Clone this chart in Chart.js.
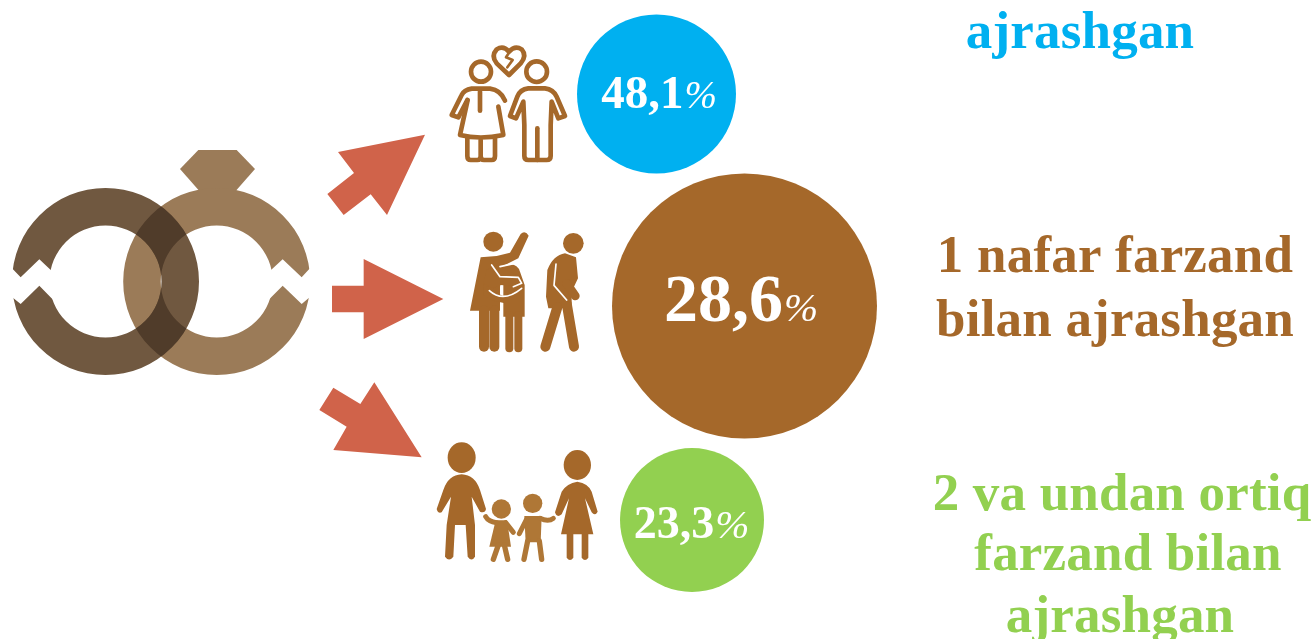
<!DOCTYPE html>
<html><head><meta charset="utf-8">
<style>html,body{margin:0;padding:0;background:#fff;overflow:hidden}canvas{display:block}</style>
<script src="https://cdn.jsdelivr.net/npm/chart.js@4"></script>
</head><body><canvas id="c" width="1314" height="639"></canvas>
<script>
const categories = ["Farzandsiz ajrashgan", "1 nafar farzand bilan ajrashgan", "2 va undan ortiq farzand bilan ajrashgan"];
const shares = [48.1, 28.6, 23.3];
const categoryLines = [["ajrashgan"], ["1 nafar farzand", "bilan ajrashgan"], ["2 va undan ortiq", "farzand bilan", "ajrashgan"]];
const percentSign = "%";

// layout, kept apart from the values
const centerX = [656.5, 744.5, 692];
const centerY = [94, 306, 520];
const radii = [79.5, 132.5, 72];
const colors = ["#00B0F0", "#A5682A", "#92D050"];
const valueFont = [47, 68, 46];
const pctFont = [39, 41, 41];
const valueDx = [0, -6, -3];
const valueBase = [108, 321, 538];
const labelX = [1080, 1115, 1122];
const labelLayout = [[48], [272, 336], [510, 570, 632]];
const labelOffsetX = [[0], [0, 0], [0, 6, -2]];
const ARROW = "#D0634A", BROWN = "#A5682A", KID = "#AF7736";
const RING_L = "#9B7B58", RING_D = "#705840", RING_X = "#503C2A";

function poly(ctx, pts, s, ox, oy) {
  ctx.beginPath();
  pts.forEach((p, i) => { const x = p[0] / s + ox, y = p[1] / s + oy; i ? ctx.lineTo(x, y) : ctx.moveTo(x, y); });
  ctx.closePath();
}
function drawRings(ctx) {
  const lx = 105.5, rx = 216.7, cy = 281.5, R = 93.5, r = 56;
  const ring = (x) => { ctx.beginPath(); ctx.arc(x, cy, R, 0, 2 * Math.PI); ctx.arc(x, cy, r, 0, 2 * Math.PI, true); ctx.closePath(); };
  ctx.fillStyle = RING_L;
  poly(ctx, [[595,60],[710,60],[765,117],[705,185],[600,185],[540,117]], 3, 0, 130); ctx.fill();
  ring(rx); ctx.fill();
  ctx.fillStyle = RING_D; ring(lx); ctx.fill();
  ctx.save(); ring(lx); ctx.clip(); ctx.fillStyle = RING_X; ring(rx); ctx.fill(); ctx.restore();
  ctx.fillStyle = "#fff";
  poly(ctx, [[20,398],[62,442],[118,388],[165,432],[165,515],[118,467],[62,522],[20,488]], 3, 0, 130); ctx.fill();
  poly(ctx, [[945,398],[905,442],[848,388],[800,432],[800,515],[848,467],[905,522],[945,488]], 3, 0, 130); ctx.fill();
}
function drawArrows(ctx) {
  ctx.fillStyle = ARROW;
  [[[1275,14],[1014,66],[1062,129],[982,192],[1031,255],[1112,193],[1161,255]],
   [[1330,507],[1091,387],[1091,467],[996,467],[996,547],[1091,547],[1091,627]],
   [[1265,982],[1123,757],[1081,822],[1000,773],[958,840],[1040,890],[1000,960]]]
  .forEach(a => { poly(ctx, a, 3, 0, 130); ctx.fill(); });
}
function strokeP(ctx, d, w, c) { ctx.lineWidth = w; ctx.strokeStyle = c; ctx.stroke(new Path2D(d)); }
function fillP(ctx, d, c) { ctx.fillStyle = c; ctx.fill(new Path2D(d)); }
function circ(ctx, x, y, rx, ry, c) { ctx.fillStyle = c; ctx.beginPath(); ctx.ellipse(x, y, rx, ry, 0, 0, 2 * Math.PI); ctx.fill(); }
function icon1(ctx) {
  ctx.save(); ctx.translate(430, 30); ctx.scale(1 / 3, 1 / 3); ctx.lineCap = "round"; ctx.lineJoin = "round";
  ctx.beginPath(); ctx.arc(153, 125, 30, 0, 7); ctx.lineWidth = 14; ctx.strokeStyle = BROWN; ctx.stroke();
  ctx.beginPath(); ctx.arc(320, 125, 31, 0, 7); ctx.stroke();
  [ "M237,135 L200,100 Q182,78 200,58 Q220,45 237,65 Q255,45 275,58 Q292,78 272,100 Z",
    "M112,210 L85,262 L65,255 L95,195 Q102,180 125,176 L180,176 Q212,180 225,212",
    "M205,230 L220,315 Q150,330 90,315 L113,210",
    "M150,185 L150,242",
    "M112,325 L112,378 Q112,390 122,390 L142,390 Q152,390 152,378 L152,330 L152,378 Q152,390 162,390 L185,390 Q195,390 195,378 L195,325",
    "M240,258 L262,200 Q270,178 295,175 L345,175 Q370,178 380,200 L405,258 L385,265 L365,215 L362,285 L362,378 Q362,390 350,390 L295,390 Q283,390 283,378 L283,285 L280,215 L258,265 Z",
    "M322,295 L322,390" ].forEach(d => strokeP(ctx, d, 14, BROWN));
  strokeP(ctx, "M240,64 L228,82 L248,90 L232,112", 8, BROWN);
  ctx.restore();
}
function icon2(ctx) {
  ctx.save(); ctx.translate(450, 220); ctx.scale(1 / 3, 1 / 3); ctx.lineCap = "round"; ctx.lineJoin = "round";
  circ(ctx, 130, 65, 30, 30, BROWN); circ(ctx, 370, 70, 31, 31, BROWN);
  fillP(ctx, "M92,112 L140,108 L180,98 L212,42 Q225,30 236,47 L205,115 L165,135 L150,200 L150,272 L60,272 Z", BROWN);
  strokeP(ctx, "M102,272 L102,380", 30, BROWN); strokeP(ctx, "M133,272 L133,380", 30, BROWN);
  fillP(ctx, "M152,155 A30,30 0 0 1 210,155 L224,195 L224,290 L160,290 L160,195 Z", BROWN);
  strokeP(ctx, "M178,285 L178,385", 24, BROWN); strokeP(ctx, "M205,285 L205,385", 24, BROWN);
  fillP(ctx, "M110,150 L140,135 L200,165 L212,182 L195,198 L150,195 L130,205 L100,190 Z", BROWN);
  fillP(ctx, "M100,190 L130,215 L160,228 L210,200 L165,250 L120,240 L100,225 Z", BROWN);
  strokeP(ctx, "M125,135 L150,170 L205,172 L215,190 L190,200", 5, "#fff");
  strokeP(ctx, "M118,212 Q160,250 215,205", 5, "#fff");
  strokeP(ctx, "M150,140 L205,128", 5, "#fff");
  fillP(ctx, "M292,150 Q310,105 345,100 L378,112 L384,175 L365,215 L365,265 L295,265 L288,230 Z", BROWN);
  strokeP(ctx, "M322,262 L286,380", 30, BROWN); strokeP(ctx, "M350,250 L372,380", 30, BROWN);
  strokeP(ctx, "M350,190 L376,228", 26, BROWN);
  strokeP(ctx, "M318,132 L312,196 L350,240", 5, "#fff");
  ctx.restore();
}
function icon3(ctx) {
  ctx.save(); ctx.translate(425, 435); ctx.scale(1 / 3, 1 / 3); ctx.lineCap = "round"; ctx.lineJoin = "round";
  circ(ctx, 110, 68, 42, 46, BROWN);
  fillP(ctx, "M110,118 Q150,120 165,165 L183,222 Q180,236 165,230 L140,185 L150,270 L150,365 Q140,382 128,365 L122,270 L90,270 L85,365 Q72,382 60,365 L65,270 L78,185 L50,232 Q38,236 35,222 L55,165 Q70,120 110,118 Z", BROWN);
  circ(ctx, 457, 90, 41, 45, BROWN);
  fillP(ctx, "M457,140 Q490,145 500,170 L518,230 Q510,245 500,232 L480,190 L505,298 L490,298 L490,368 Q480,382 470,368 L470,298 L445,298 L445,368 Q435,382 425,368 L425,298 L408,298 L432,190 L410,238 Q395,250 390,232 L410,170 Q425,145 457,140 Z", BROWN);
  circ(ctx, 229, 222, 29, 29, KID);
  fillP(ctx, "M212,256 L246,256 L258,335 L193,335 Z", KID);
  strokeP(ctx, "M182,245 Q190,260 215,263", 15, KID); strokeP(ctx, "M242,263 L265,292", 15, KID);
  strokeP(ctx, "M220,330 L205,373", 16, KID); strokeP(ctx, "M238,330 L248,373", 16, KID);
  circ(ctx, 323, 205, 29, 29, KID);
  fillP(ctx, "M298,243 L350,243 L347,322 L302,322 Z", KID);
  strokeP(ctx, "M283,296 L305,252", 15, KID); strokeP(ctx, "M345,250 Q370,262 385,250", 15, KID);
  strokeP(ctx, "M308,318 L297,373", 16, KID); strokeP(ctx, "M343,318 L350,373", 16, KID);
  ctx.restore();
}
const decor = {
  id: "decor",
  beforeDatasetsDraw(chart) {
    const ctx = chart.ctx; ctx.save();
    drawRings(ctx); drawArrows(ctx); icon1(ctx); icon2(ctx); icon3(ctx);
    ctx.restore();
  },
  afterDatasetsDraw(chart) {
    const ctx = chart.ctx, meta = chart.getDatasetMeta(0); ctx.save();
    ctx.textBaseline = "alphabetic";
    shares.forEach((v, i) => {
      const el = meta.data[i], t = String(v).replace(".", ",");
      const f1 = `bold ${valueFont[i]}px "Liberation Serif"`, f2 = `italic ${pctFont[i]}px "Liberation Serif"`;
      ctx.font = f1; const w1 = ctx.measureText(t).width;
      ctx.font = f2; const w2 = ctx.measureText(percentSign).width;
      const x0 = el.x - (w1 + w2) / 2 + 2 + valueDx[i];
      ctx.fillStyle = "#fff"; ctx.textAlign = "left";
      ctx.font = f1; ctx.fillText(t, x0, valueBase[i]);
      ctx.font = f2; ctx.fillText(percentSign, x0 + w1 + 1, valueBase[i]);
      ctx.font = 'bold 53px "Liberation Serif"'; ctx.textAlign = "center"; ctx.fillStyle = colors[i];
      ctx.letterSpacing = "0.2px";
      categoryLines[i].forEach((line, j) => ctx.fillText(line, labelX[i] + labelOffsetX[i][j], labelLayout[i][j]));
      ctx.letterSpacing = "0px";
    });
    ctx.restore();
  }
};
new Chart(document.getElementById("c"), {
  type: "bubble",
  data: { labels: categories, datasets: [{
    label: "Ajrashganlar ulushi",
    data: shares.map((v, i) => ({ x: centerX[i], y: centerY[i], r: radii[i], v })),
    backgroundColor: colors, borderWidth: 0, hoverBorderWidth: 0, clip: false
  }] },
  options: {
    responsive: false, animation: false, devicePixelRatio: 1,
    layout: { padding: 0, autoPadding: false },
    plugins: { legend: { display: false }, tooltip: { enabled: false } },
    scales: {
      x: { type: "linear", min: 0, max: 1314, display: false },
      y: { type: "linear", min: 0, max: 639, reverse: true, display: false }
    }
  },
  plugins: [decor]
});
</script></body></html>
